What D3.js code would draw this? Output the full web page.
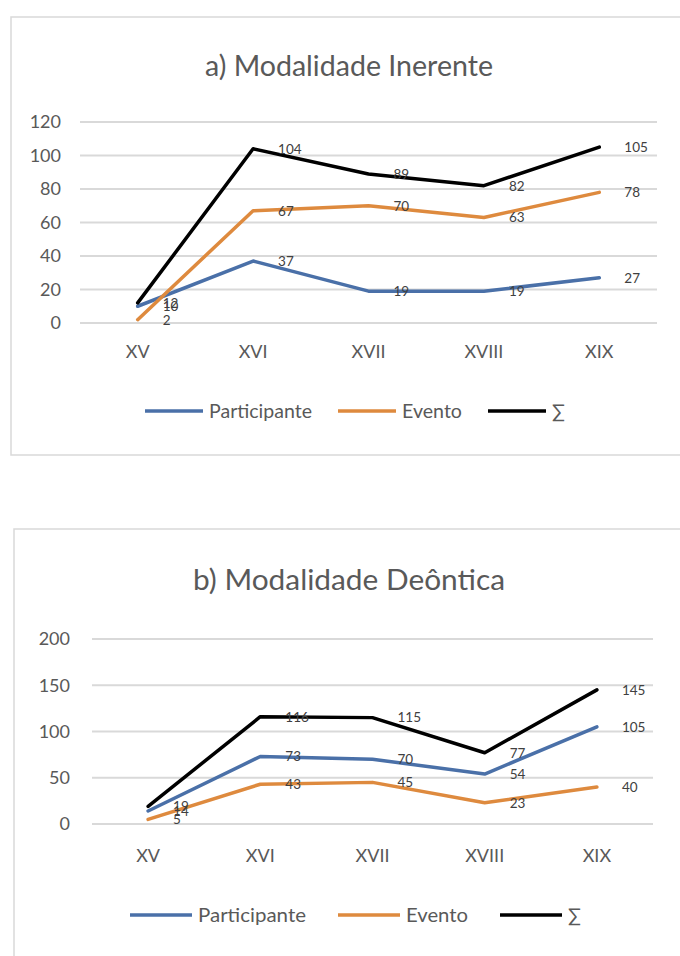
<!DOCTYPE html>
<html>
<head>
<meta charset="utf-8">
<script src="https://cdn.jsdelivr.net/npm/d3@7"></script>
<style>
  html, body { margin: 0; padding: 0; background: #fff; }
  svg { display: block; }
  text { font-family: Lato, "Open Sans", sans-serif; }
</style>
</head>
<body>
<svg id="chart" width="680" height="956"></svg>
<script>
// ---------- data ----------
const categories = ["XV", "XVI", "XVII", "XVIII", "XIX"];
const seriesNames = ["Participante", "Evento", "∑"];
const seriesColors = ["#4a70a8", "#de8a3e", "#000000"];

// a) Modalidade Inerente
const titleA = "a) Modalidade Inerente";
const participanteA = [10, 37, 19, 19, 27];
const eventoA = [2, 67, 70, 63, 78];
const somaA = [12, 104, 89, 82, 105];
const ticksA = [0, 20, 40, 60, 80, 100, 120];

// b) Modalidade Deôntica
const titleB = "b) Modalidade Deôntica";
const participanteB = [14, 73, 70, 54, 105];
const eventoB = [5, 43, 45, 23, 40];
const somaB = [19, 116, 115, 77, 145];
const ticksB = [0, 50, 100, 150, 200];

const svg = d3.select("#chart");

function drawChart(cfg) {
  const g = svg.append("g");

  // frame
  g.append("rect")
    .attr("x", cfg.frame[0]).attr("y", cfg.frame[1])
    .attr("width", cfg.frame[2]).attr("height", cfg.frame[3])
    .attr("fill", "#fff").attr("stroke", "#d9d9d9").attr("stroke-width", 1.5);

  // title
  g.append("text")
    .attr("x", cfg.titleX).attr("y", cfg.titleY)
    .attr("text-anchor", "middle")
    .attr("font-size", 28).attr("fill", "#595959")
    .attr("textLength", cfg.titleLen).attr("lengthAdjust", "spacingAndGlyphs")
    .text(cfg.title);

  const x = d3.scaleBand().domain(categories).range(cfg.xRange);
  const cx = c => x(c) + x.bandwidth() / 2;
  const y = d3.scaleLinear().domain([0, d3.max(cfg.ticks)]).range(cfg.yRange);

  // gridlines
  g.append("g").selectAll("line").data(cfg.ticks).join("line")
    .attr("x1", cfg.xRange[0]).attr("x2", cfg.xRange[1])
    .attr("y1", d => y(d)).attr("y2", d => y(d))
    .attr("stroke", "#d9d9d9").attr("stroke-width", 1.8);

  // y tick labels
  g.append("g").selectAll("text").data(cfg.ticks).join("text")
    .attr("x", cfg.tickX).attr("y", d => y(d)).attr("dy", "0.36em")
    .attr("text-anchor", "end").attr("font-size", 18).attr("fill", "#595959")
    .text(d => d);

  // x labels
  g.append("g").selectAll("text").data(categories).join("text")
    .attr("x", d => cx(d)).attr("y", cfg.xLabelY).attr("dy", "0.36em")
    .attr("text-anchor", "middle").attr("font-size", 18).attr("fill", "#595959")
    .text(d => d);

  const series = cfg.series;
  const line = d3.line().x((d, i) => cx(categories[i])).y(d => y(d));

  g.append("g").selectAll("path").data(series).join("path")
    .attr("d", d => line(d.values))
    .attr("fill", "none")
    .attr("stroke", d => d.color).attr("stroke-width", 3.5)
    .attr("stroke-linejoin", "round").attr("stroke-linecap", "round");

  // data labels (right of point)
  series.forEach(s => {
    g.append("g").selectAll("text").data(s.values).join("text")
      .attr("x", (d, i) => cx(categories[i]) + 25)
      .attr("y", d => y(d)).attr("dy", "0.36em")
      .attr("font-size", 13.5).attr("fill", "#404040")
      .text(d => d);
  });

  // legend
  let lx = cfg.legendX;
  series.forEach((s, i) => {
    g.append("line")
      .attr("x1", lx).attr("x2", lx + cfg.legendLine)
      .attr("y1", cfg.legendY).attr("y2", cfg.legendY)
      .attr("stroke", s.color).attr("stroke-width", 3.5);
    const t = g.append("text")
      .attr("x", lx + cfg.legendLine + 6).attr("y", cfg.legendY).attr("dy", "0.36em")
      .attr("font-size", 19).attr("fill", "#595959")
      .text(s.name);
    if (cfg.legendLens[i]) {
      t.attr("textLength", cfg.legendLens[i]).attr("lengthAdjust", "spacingAndGlyphs");
    }
    const w = cfg.legendLens[i] || t.node().getComputedTextLength();
    lx += cfg.legendLine + 6 + w + cfg.legendGap;
  });
}

drawChart({
  title: titleA,
  frame: [11, 17, 690, 438],
  titleX: 349, titleY: 76, titleLen: 288,
  xRange: [80, 657], yRange: [323, 122], ticks: ticksA,
  tickX: 61, xLabelY: 352,
  legendX: 145, legendY: 411, legendLine: 58, legendGap: 26,
  legendLens: [103, 60, 0],
  series: [
    { name: seriesNames[0], color: seriesColors[0], values: participanteA },
    { name: seriesNames[1], color: seriesColors[1], values: eventoA },
    { name: seriesNames[2], color: seriesColors[2], values: somaA }
  ]
});

drawChart({
  title: titleB,
  frame: [14, 529, 690, 460],
  titleX: 349, titleY: 590, titleLen: 312,
  xRange: [92, 653], yRange: [824, 639], ticks: ticksB,
  tickX: 70, xLabelY: 856,
  legendX: 130, legendY: 915, legendLine: 62, legendGap: 32,
  legendLens: [108, 62, 0],
  series: [
    { name: seriesNames[0], color: seriesColors[0], values: participanteB },
    { name: seriesNames[1], color: seriesColors[1], values: eventoB },
    { name: seriesNames[2], color: seriesColors[2], values: somaB }
  ]
});
</script>
</body>
</html>
